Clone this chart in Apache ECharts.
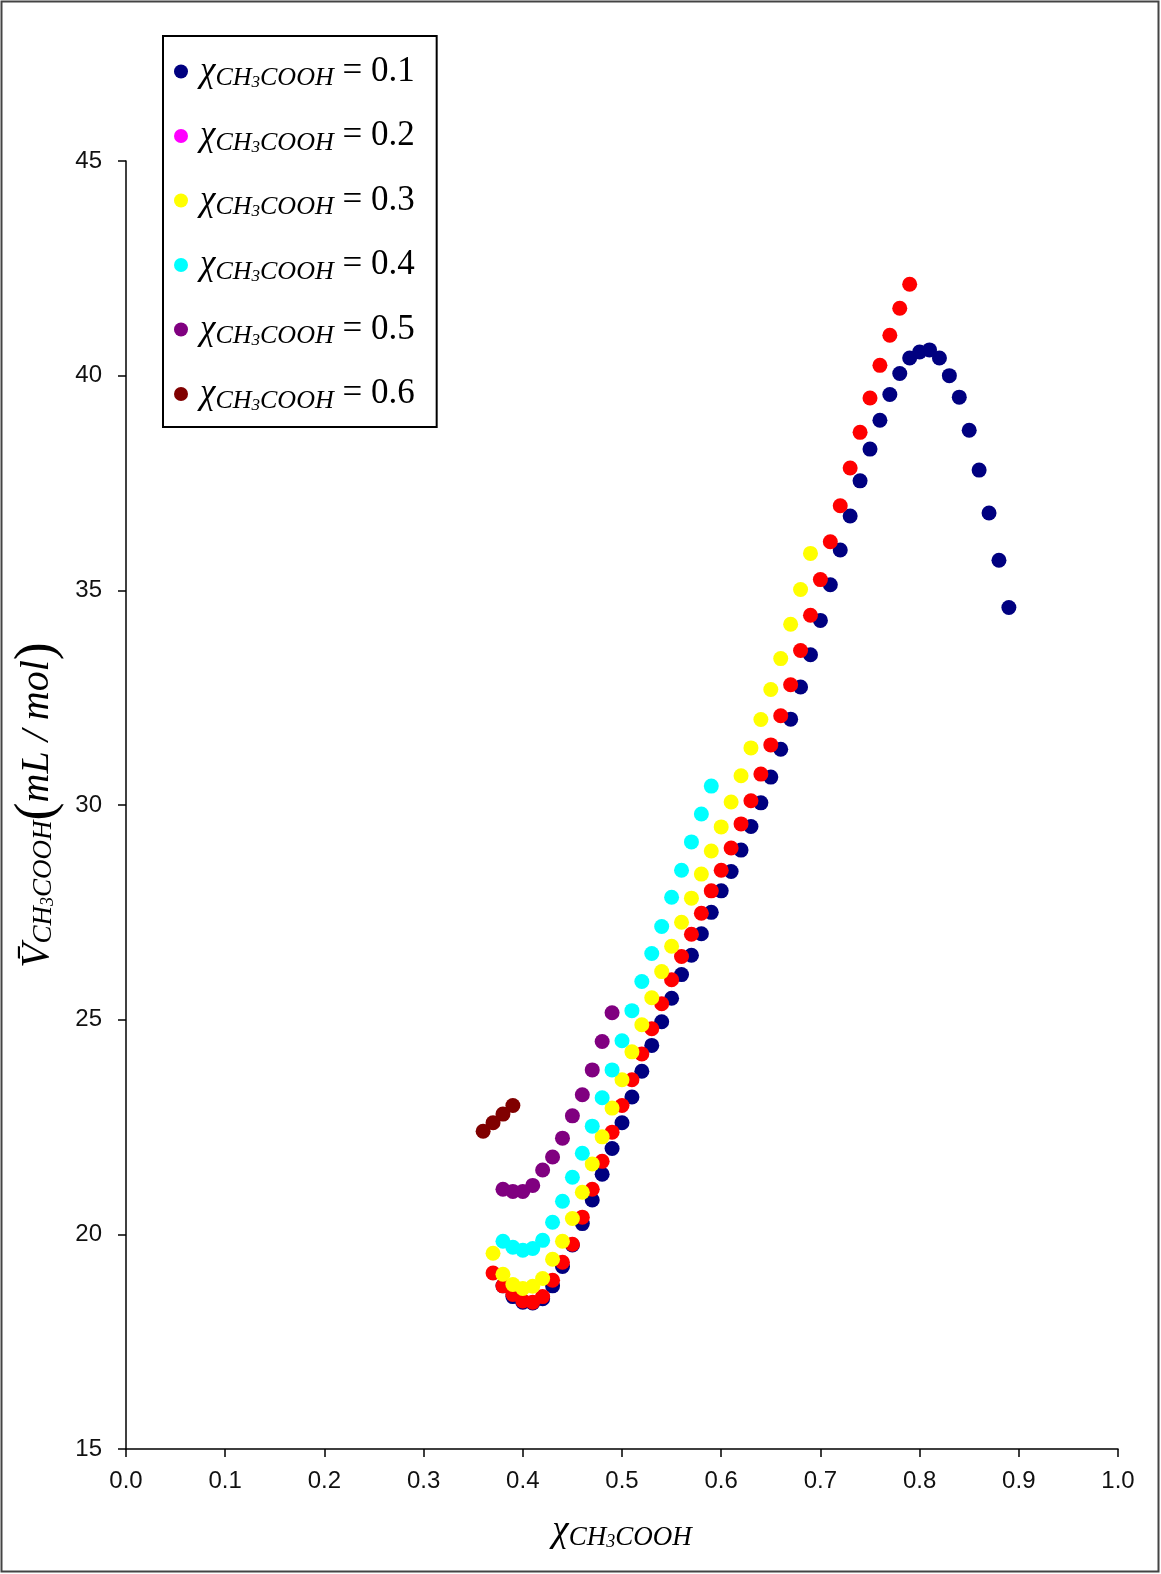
<!DOCTYPE html>
<html>
<head>
<meta charset="utf-8">
<title>Partial molar volume of CH3COOH</title>
<script src="https://cdn.jsdelivr.net/npm/echarts@6/dist/echarts.min.js"></script>
<style>
  html, body { margin: 0; padding: 0; background: #fff; }
  #chart { width: 1161px; height: 1574px; }
</style>
</head>
<body>
<div id="chart"></div>
<script>
// Series labels (mole fraction of CH3COOH in the mixture)
const seriesNames = ['0.1', '0.2', '0.3', '0.4', '0.5', '0.6'];
const markerColors = ['#000080', '#FF0000', '#FFFF00', '#00FFFF', '#800080', '#800000'];
const legendColors = ['#000080', '#FF00FF', '#FFFF00', '#00FFFF', '#800080', '#800000'];

// x = mole fraction, v = partial molar volume (mL/mol)
const x01 = [0.38, 0.39, 0.40, 0.41, 0.42, 0.43, 0.44, 0.45, 0.46, 0.47, 0.48, 0.49, 0.50, 0.51, 0.52, 0.53,
  0.54, 0.55, 0.56, 0.57, 0.58, 0.59, 0.60, 0.61, 0.62, 0.63, 0.64, 0.65, 0.66, 0.67, 0.68, 0.69, 0.70,
  0.71, 0.72, 0.73, 0.74, 0.75, 0.76, 0.77, 0.78, 0.79, 0.80, 0.81, 0.82, 0.83, 0.84, 0.85, 0.86, 0.87,
  0.88, 0.89];
const v01 = [18.8, 18.55, 18.42, 18.4, 18.5, 18.8, 19.25, 19.75, 20.25, 20.8, 21.4, 22.0, 22.6, 23.2, 23.8, 24.4,
  24.95, 25.5, 26.05, 26.5, 27.0, 27.5, 28.0, 28.45, 28.95, 29.5, 30.05, 30.65, 31.3, 32.0, 32.75, 33.5, 34.3,
  35.13, 35.94, 36.73, 37.55, 38.29, 38.96, 39.56, 40.05, 40.41, 40.55, 40.6, 40.41, 40.0, 39.5, 38.73, 37.8, 36.8,
  35.7, 34.6];

const x02 = [0.37, 0.38, 0.39, 0.40, 0.41, 0.42, 0.43, 0.44, 0.45, 0.46, 0.47, 0.48, 0.49, 0.50, 0.51, 0.52,
  0.53, 0.54, 0.55, 0.56, 0.57, 0.58, 0.59, 0.60, 0.61, 0.62, 0.63, 0.64, 0.65, 0.66, 0.67, 0.68, 0.69,
  0.70, 0.71, 0.72, 0.73, 0.74, 0.75, 0.76, 0.77, 0.78, 0.79];
const v02 = [19.1, 18.8, 18.6, 18.45, 18.42, 18.55, 18.93, 19.35, 19.77, 20.4, 21.05, 21.7, 22.38, 23.0, 23.6, 24.2,
  24.79, 25.37, 25.93, 26.47, 26.99, 27.48, 28.0, 28.48, 29.0, 29.56, 30.1, 30.72, 31.4, 32.08, 32.8, 33.6, 34.42,
  35.25, 36.13, 36.97, 37.85, 38.68, 39.48, 40.24, 40.94, 41.57, 42.13];

const x03 = [0.37, 0.38, 0.39, 0.40, 0.41, 0.42, 0.43, 0.44, 0.45, 0.46, 0.47, 0.48, 0.49, 0.50, 0.51, 0.52,
  0.53, 0.54, 0.55, 0.56, 0.57, 0.58, 0.59, 0.60, 0.61, 0.62, 0.63, 0.64, 0.65, 0.66, 0.67, 0.68, 0.69];
const v03 = [19.56, 19.07, 18.83, 18.74, 18.79, 18.97, 19.42, 19.84, 20.37, 20.98, 21.64, 22.27, 22.94, 23.6, 24.25, 24.88,
  25.51, 26.12, 26.71, 27.27, 27.83, 28.39, 28.93, 29.49, 30.07, 30.68, 31.33, 31.99, 32.69, 33.41, 34.21, 35.02, 35.86];

const x04 = [0.38, 0.39, 0.40, 0.41, 0.42, 0.43, 0.44, 0.45, 0.46, 0.47, 0.48, 0.49, 0.50, 0.51, 0.52, 0.53,
  0.54, 0.55, 0.56, 0.57, 0.58, 0.59];
const v04 = [19.84, 19.7, 19.63, 19.67, 19.86, 20.28, 20.77, 21.33, 21.89, 22.52, 23.18, 23.83, 24.51, 25.21, 25.89, 26.54,
  27.17, 27.85, 28.48, 29.14, 29.79, 30.44];

const x05 = [0.38, 0.39, 0.40, 0.41, 0.42, 0.43, 0.44, 0.45, 0.46, 0.47, 0.48, 0.49];
const v05 = [21.05, 21.0, 21.0, 21.14, 21.5, 21.8, 22.24, 22.76, 23.25, 23.83, 24.49, 25.16];

const x06 = [0.36, 0.37, 0.38, 0.39];
const v06 = [22.4, 22.6, 22.8, 23.0];

const xTicks = { min: 0, max: 1, interval: 0.1 };
const yTicks = { min: 15, max: 45, interval: 5 };

const seriesX = [x01, x02, x03, x04, x05, x06];
const seriesV = [v01, v02, v03, v04, v05, v06];

const serif = "'Liberation Serif', 'Times New Roman', serif";
const tickFont = "'Liberation Sans Narrow', 'Liberation Sans', Arial, sans-serif";

// rich-text pieces for the chemical subscript
const chemRich = (big, sub, tiny, paren) => ({
  f: { fontFamily: serif, fontStyle: 'italic', fontSize: big, lineHeight: 40, color: '#000', padding: [0, 0, 0, 7] },
  c: { fontFamily: serif, fontStyle: 'italic', fontSize: big, lineHeight: 40, color: '#000' },
  s: { fontFamily: serif, fontStyle: 'italic', fontSize: sub, lineHeight: 18, verticalAlign: 'bottom', color: '#000' },
  t: { fontFamily: serif, fontStyle: 'italic', fontSize: tiny, lineHeight: 4, verticalAlign: 'bottom', color: '#000' },
  e: { fontFamily: serif, fontSize: big, lineHeight: 40, color: '#000' },
  p: { fontFamily: serif, fontSize: paren, lineHeight: 40, color: '#000' }
});

const chart = echarts.init(document.getElementById('chart'), null, { renderer: 'canvas' });

chart.setOption({
  animation: false,
  backgroundColor: '#fff',
  graphic: [{
    type: 'rect',
    shape: { x: 1.5, y: 1.5, width: 1157, height: 1570 },
    style: { fill: 'none', stroke: '#444', lineWidth: 2 },
    silent: true
  }],
  grid: { left: 126, right: 43, top: 161, bottom: 125 },
  legend: {
    orient: 'vertical',
    left: 163,
    top: 36,
    padding: [18, 22, 13, 11],
    itemGap: 27,
    itemWidth: 14,
    itemHeight: 14,
    icon: 'circle',
    borderColor: '#000',
    borderWidth: 2,
    backgroundColor: '#fff',
    formatter: name => '{f|χ}{s|CH}{t|3}{s|COOH}{e| = ' + name + '}',
    textStyle: { rich: chemRich(35, 26, 17, 35) },
    data: seriesNames.map((n, i) => ({ name: n, itemStyle: { color: legendColors[i] } }))
  },
  xAxis: {
    type: 'value',
    min: xTicks.min,
    max: xTicks.max,
    interval: xTicks.interval,
    name: '{c|χ}{s|CH}{t|3}{s|COOH}',
    nameLocation: 'middle',
    nameGap: 62,
    nameTextStyle: { rich: chemRich(37, 27, 18, 37) },
    axisLine: { lineStyle: { color: '#000', width: 1.5 } },
    axisTick: { length: 8, lineStyle: { color: '#000', width: 1.5 } },
    axisLabel: {
      margin: 20, fontSize: 24, color: '#111', fontFamily: tickFont,
      formatter: v => v.toFixed(1)
    },
    splitLine: { show: false }
  },
  yAxis: {
    type: 'value',
    min: yTicks.min,
    max: yTicks.max,
    interval: yTicks.interval,
    name: '{c|V̄}{s|CH}{t|3}{s|COOH}{p|(}{c|mL / mol}{p|)}',
    nameLocation: 'middle',
    nameRotate: 90,
    nameGap: 58,
    nameTextStyle: { rich: chemRich(40, 27, 18, 54) },
    axisLine: { show: true, lineStyle: { color: '#000', width: 1.5 } },
    axisTick: { show: true, length: 8, lineStyle: { color: '#000', width: 1.5 } },
    axisLabel: { margin: 24, fontSize: 24, color: '#111', fontFamily: tickFont },
    splitLine: { show: false }
  },
  series: seriesNames.map((n, i) => ({
    name: n,
    type: 'scatter',
    symbol: 'circle',
    symbolSize: 15,
    itemStyle: { color: markerColors[i], opacity: 1 },
    data: seriesX[i].map((x, j) => [x, seriesV[i][j]])
  }))
});
</script>
</body>
</html>
